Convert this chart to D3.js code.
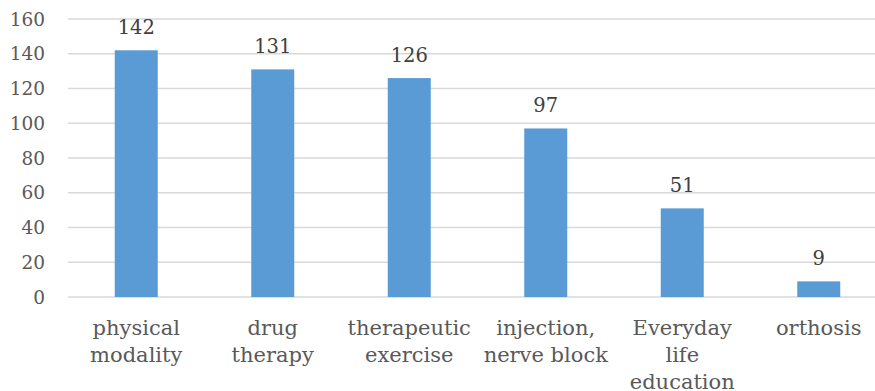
<!DOCTYPE html>
<html>
<head>
<meta charset="utf-8">
<script src="https://cdn.jsdelivr.net/npm/d3@7"></script>
<style>
  html, body { margin: 0; padding: 0; background: #fff; }
  svg { display: block; }
</style>
</head>
<body>
<svg id="chart" width="875" height="391"></svg>
<script>
// Treatment categories (wrapped as drawn) and their counts
const categories = [
  ["physical", "modality"],
  ["drug", "therapy"],
  ["therapeutic", "exercise"],
  ["injection,", "nerve block"],
  ["Everyday", "life", "education"],
  ["orthosis"]
];
const counts = [142, 131, 126, 97, 51, 9];
const yTicks = [0, 20, 40, 60, 80, 100, 120, 140, 160];

(function draw() {
  const svg = d3.select("#chart");
  const fontFamily = "'DejaVu Serif', serif";

  const plotLeft = 68, plotRight = 887, gridRight = 875;
  const plotTop = 19, plotBottom = 297;

  const keys = categories.map(c => c.join(" "));

  const x = d3.scaleBand()
    .domain(keys)
    .range([plotLeft, plotRight])
    .paddingInner(0.685)
    .paddingOuter(0.3425);

  const y = d3.scaleLinear()
    .domain([0, 160])
    .range([plotBottom, plotTop]);

  // horizontal gridlines
  svg.append("g")
    .selectAll("line")
    .data(yTicks)
    .join("line")
    .attr("x1", plotLeft)
    .attr("x2", gridRight)
    .attr("y1", d => y(d))
    .attr("y2", d => y(d))
    .attr("stroke", "#d9d9d9")
    .attr("stroke-width", 1.5);

  // y tick labels
  svg.append("g")
    .selectAll("text")
    .data(yTicks)
    .join("text")
    .attr("x", 45)
    .attr("y", d => y(d))
    .attr("dy", "0.36em")
    .attr("text-anchor", "end")
    .attr("font-family", fontFamily)
    .attr("font-size", 18.5)
    .attr("fill", "#595959")
    .text(d => d);

  // bars
  svg.append("g")
    .selectAll("rect")
    .data(counts)
    .join("rect")
    .attr("x", (d, i) => x(keys[i]))
    .attr("width", x.bandwidth())
    .attr("y", d => y(d))
    .attr("height", d => y(0) - y(d))
    .attr("fill", "#5b9bd5");

  // value labels
  svg.append("g")
    .selectAll("text")
    .data(counts)
    .join("text")
    .attr("x", (d, i) => x(keys[i]) + x.bandwidth() / 2)
    .attr("y", d => y(d) - 16)
    .attr("text-anchor", "middle")
    .attr("font-family", fontFamily)
    .attr("font-size", 19.5)
    .attr("fill", "#404040")
    .text(d => d);

  // category labels
  const cat = svg.append("g")
    .selectAll("text")
    .data(categories)
    .join("text")
    .attr("x", (d, i) => x(keys[i]) + x.bandwidth() / 2)
    .attr("y", 335)
    .attr("text-anchor", "middle")
    .attr("font-family", fontFamily)
    .attr("font-size", 21)
    .attr("fill", "#595959");

  cat.selectAll("tspan")
    .data(d => d)
    .join("tspan")
    .attr("x", function () { return d3.select(this.parentNode).attr("x"); })
    .attr("dy", (d, i) => i === 0 ? 0 : 27)
    .text(d => d);
})();
</script>
</body>
</html>
